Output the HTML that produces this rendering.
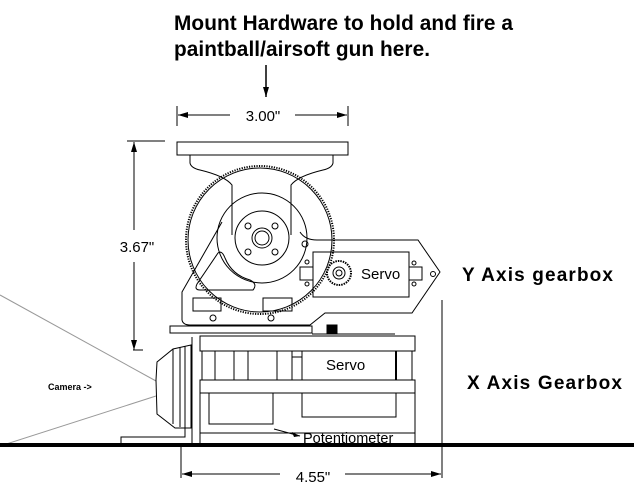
<!DOCTYPE html>
<html><head><meta charset="utf-8"><style>html,body{margin:0;padding:0;background:#fff}svg{display:block}</style></head><body>
<svg width="634" height="490" viewBox="0 0 634 490" xmlns="http://www.w3.org/2000/svg" font-family="Liberation Sans, Arial, sans-serif">
<defs>
<marker id="ar" markerWidth="10" markerHeight="6" refX="10" refY="3" orient="auto" markerUnits="userSpaceOnUse"><path d="M0,0 L10,3 L0,6 z" fill="#000"/></marker>
</defs>
<rect width="634" height="490" fill="#fff"/>
<text x="174" y="30" font-size="20.8" font-weight="bold" textLength="339">Mount Hardware to hold and fire a</text>
<text x="174" y="56" font-size="20.8" font-weight="bold" textLength="256">paintball/airsoft gun here.</text>
<line x1="266" y1="65" x2="266" y2="97" stroke="#000" stroke-width="1.5" marker-end="url(#ar)"/>

<g stroke="#000" fill="none" stroke-width="1">
<line x1="177" y1="106" x2="177" y2="126"/><line x1="348" y1="106" x2="348" y2="126"/>
<line x1="230" y1="115" x2="178" y2="115" marker-end="url(#ar)"/>
<line x1="295" y1="115" x2="347" y2="115" marker-end="url(#ar)"/>
<line x1="127" y1="141" x2="165" y2="141"/><line x1="133" y1="350" x2="143" y2="350"/>
<line x1="134" y1="230" x2="134" y2="142" marker-end="url(#ar)"/>
<line x1="134" y1="262" x2="134" y2="350" marker-end="url(#ar)"/>
<line x1="181" y1="447" x2="181" y2="478"/><line x1="442" y1="300" x2="442" y2="478"/>
<line x1="280" y1="474" x2="182" y2="474" marker-end="url(#ar)"/>
<line x1="345" y1="474" x2="441" y2="474" marker-end="url(#ar)"/>
<line x1="156" y1="381" x2="0" y2="295" stroke="#999"/>
<line x1="156" y1="396" x2="0" y2="446" stroke="#999"/>

<rect x="177" y="142" width="171" height="13"/>
<path d="M190,155 V163 Q191,168 200,170 Q225,176 232,185 V235"/>
<path d="M333,155 V163 Q332,168 323,170 Q298,176 291,185 V235"/>
<circle cx="260" cy="240" r="74" stroke-dasharray="1.2 1.3" stroke-width="2"/>
<circle cx="260" cy="240" r="72"/>
<circle cx="262" cy="238" r="45"/>
<circle cx="262" cy="238" r="27"/>
<circle cx="262" cy="238" r="10"/><circle cx="262" cy="238" r="7"/>
<circle cx="248" cy="226" r="3"/><circle cx="275" cy="226" r="3"/>
<circle cx="248" cy="252" r="3"/><circle cx="275" cy="252" r="3"/>
<path d="M222,222 L182,292 V320 Q183,325 190,325 H310 L325,313 H412 L440,272 L418,240 H317 Q305,240 300,232"/>
<path d="M218,253 Q222,250 225,258 Q232,275 250,280 Q258,284 253,290 H200 Q194,290 197,284 Z"/>
<rect x="193" y="298" width="28" height="13"/><rect x="263" y="298" width="29" height="13"/>
<circle cx="213" cy="318" r="3"/><circle cx="271" cy="318" r="3"/>
<circle cx="305" cy="244" r="3"/><circle cx="307" cy="262" r="2"/><circle cx="307" cy="284" r="2"/>
<circle cx="414" cy="263" r="2"/><circle cx="414" cy="284" r="2"/><circle cx="433" cy="274" r="2.5"/>
<rect x="313" y="252" width="96" height="45"/>
<path d="M313,267 H300 V280 H313"/><path d="M409,267 H422 V280 H409"/>
<circle cx="339" cy="273" r="12" stroke-dasharray="1.5 1" stroke-width="2"/>
<circle cx="339" cy="273" r="6"/><circle cx="339" cy="273" r="3"/>
<rect x="170" y="326" width="142" height="7"/>
<rect x="327" y="325" width="10" height="8" fill="#000"/>
<line x1="312" y1="334" x2="395" y2="334"/>
<rect x="200" y="336" width="215" height="15"/>
<rect x="200" y="380" width="215" height="13"/>
<line x1="202" y1="351" x2="202" y2="380"/><line x1="215" y1="351" x2="215" y2="380"/>
<line x1="234" y1="351" x2="234" y2="380"/><line x1="248" y1="351" x2="248" y2="380"/>
<line x1="277" y1="351" x2="277" y2="380"/><line x1="292" y1="351" x2="292" y2="380"/>
<line x1="292" y1="357" x2="302" y2="357"/>
<rect x="302" y="351" width="94" height="29"/>
<line x1="396" y1="351" x2="396" y2="380" stroke-width="2"/>
<line x1="412" y1="351" x2="412" y2="380"/>
<line x1="200" y1="393" x2="200" y2="443"/><line x1="415" y1="393" x2="415" y2="443"/>
<rect x="209" y="393" width="64" height="31"/>
<rect x="302" y="393" width="94" height="24"/>
<line x1="200" y1="433" x2="415" y2="433"/>
<line x1="274" y1="429" x2="300" y2="436"/>
<line x1="192" y1="337" x2="192" y2="443"/>
<path d="M156,380 L157,362 L173,349 L191,345 V428 H175 L157,414 Z"/>
<line x1="173" y1="349" x2="173" y2="424"/><line x1="180" y1="347" x2="180" y2="427"/><line x1="185" y1="346" x2="185" y2="428"/>
<path d="M185,428 V437 H121 V443"/>
</g>
<path d="M300,436 L292,432 L294,437 Z" fill="#000"/>
<rect x="0" y="443" width="634" height="4" fill="#000"/>

<text x="263" y="121" font-size="15" text-anchor="middle">3.00"</text>
<text x="137" y="252" font-size="15" text-anchor="middle">3.67"</text>
<text x="313" y="482" font-size="15" text-anchor="middle">4.55"</text>
<text x="361" y="279" font-size="15">Servo</text>
<text x="326" y="370" font-size="15">Servo</text>
<text x="303" y="443" font-size="14.5">Potentiometer</text>
<text x="48" y="390" font-size="9" font-weight="bold">Camera -&gt;</text>
<text x="462" y="281" font-size="19" font-weight="bold" textLength="151">Y Axis gearbox</text>
<text x="467" y="389" font-size="19" font-weight="bold" textLength="155">X Axis Gearbox</text>
</svg>
</body></html>
